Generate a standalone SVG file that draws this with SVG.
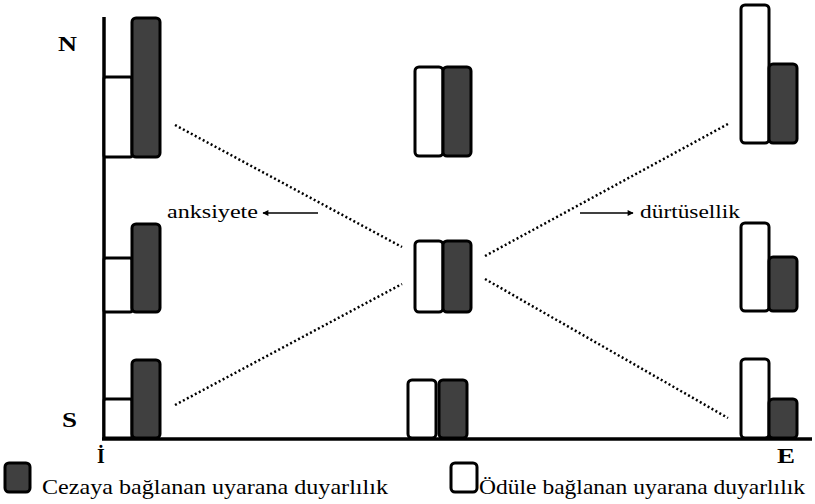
<svg xmlns="http://www.w3.org/2000/svg" width="815" height="504" viewBox="0 0 815 504">
<style>
.w{fill:#fff;stroke:#000;stroke-width:3}
.d{fill:#404040;stroke:#000;stroke-width:3}
text{font-family:"Liberation Serif","Times New Roman",serif;fill:#000}
.ax{stroke:#000;stroke-width:3.5;fill:none}
.dot{stroke:#000;stroke-width:2.5;stroke-dasharray:2 2.5;fill:none}
.arr{stroke:#000;stroke-width:1.5;fill:none}
</style>
<defs>
<marker id="ah" viewBox="0 0 10 10" refX="9" refY="5" markerWidth="8" markerHeight="6" orient="auto" markerUnits="userSpaceOnUse">
<path d="M0,0 L10,5 L0,10 z" fill="#000"/>
</marker>
</defs>
<g id="axes">
<line class="ax" x1="104" y1="17" x2="104" y2="439"/>
<line class="ax" x1="102" y1="439" x2="812" y2="439"/>
<text x="58" y="51" font-size="20" font-weight="bold" textLength="19" lengthAdjust="spacingAndGlyphs">N</text>
<text x="62" y="427" font-size="20" font-weight="bold" textLength="15" lengthAdjust="spacingAndGlyphs">S</text>
<text x="97" y="463" font-size="20" font-weight="bold">İ</text>
<text x="777" y="463" font-size="20" font-weight="bold" textLength="18" lengthAdjust="spacingAndGlyphs">E</text>
</g>
<g id="connectors">
<line class="dot" x1="175" y1="125" x2="402" y2="247"/>
<line class="dot" x1="175" y1="405" x2="402" y2="284"/>
<line class="dot" x1="485" y1="256" x2="728" y2="124"/>
<line class="dot" x1="485" y1="279" x2="728" y2="418"/>
<line class="arr" x1="318" y1="213" x2="263" y2="213" marker-end="url(#ah)"/>
<line class="arr" x1="580" y1="213" x2="633" y2="213" marker-end="url(#ah)"/>
</g>
<g id="label-anksiyete"><text x="167" y="218" font-size="18" textLength="91" lengthAdjust="spacingAndGlyphs">anksiyete</text></g>
<g id="label-durtusellik"><text x="640" y="218" font-size="18" textLength="100" lengthAdjust="spacingAndGlyphs">dürtüsellik</text></g>
<g id="bar-left-top">
<rect class="w" x="104" y="77" width="28" height="80" rx="2"/>
<rect class="d" x="132" y="18" width="28" height="139" rx="4"/>
</g>
<g id="bar-left-mid">
<rect class="w" x="104" y="258" width="28" height="54" rx="2"/>
<rect class="d" x="132" y="224" width="28" height="88" rx="4"/>
</g>
<g id="bar-left-bot">
<rect class="w" x="104" y="399" width="28" height="39" rx="2"/>
<rect class="d" x="132" y="360" width="28" height="78" rx="4"/>
</g>
<g id="bar-mid-top">
<rect class="w" x="415" y="67" width="28" height="89" rx="4"/>
<rect class="d" x="443" y="67" width="28" height="89" rx="4"/>
</g>
<g id="bar-mid-mid">
<rect class="w" x="415" y="241" width="28" height="71" rx="4"/>
<rect class="d" x="443" y="241" width="28" height="71" rx="4"/>
</g>
<g id="bar-mid-bot">
<rect class="w" x="408" y="380" width="28" height="58" rx="4"/>
<rect class="d" x="439" y="380" width="28" height="58" rx="4"/>
</g>
<g id="bar-right-top">
<rect class="w" x="741" y="5" width="28" height="138" rx="4"/>
<rect class="d" x="769" y="64" width="28" height="79" rx="4"/>
</g>
<g id="bar-right-mid">
<rect class="w" x="741" y="223" width="28" height="88" rx="4"/>
<rect class="d" x="769" y="257" width="28" height="54" rx="4"/>
</g>
<g id="bar-right-bot">
<rect class="w" x="741" y="359" width="28" height="79" rx="4"/>
<rect class="d" x="769" y="399" width="28" height="39" rx="4"/>
</g>
<g id="legend-punish">
<rect class="d" x="5" y="463" width="25" height="29" rx="4"/>
<text x="42" y="494" font-size="22" textLength="346" lengthAdjust="spacingAndGlyphs">Cezaya bağlanan uyarana duyarlılık</text>
</g>
<g id="legend-reward">
<rect class="w" x="451" y="463" width="26" height="29" rx="4"/>
<text x="479" y="494" font-size="22" textLength="326" lengthAdjust="spacingAndGlyphs">Ödüle bağlanan uyarana duyarlılık</text>
</g>
</svg>
